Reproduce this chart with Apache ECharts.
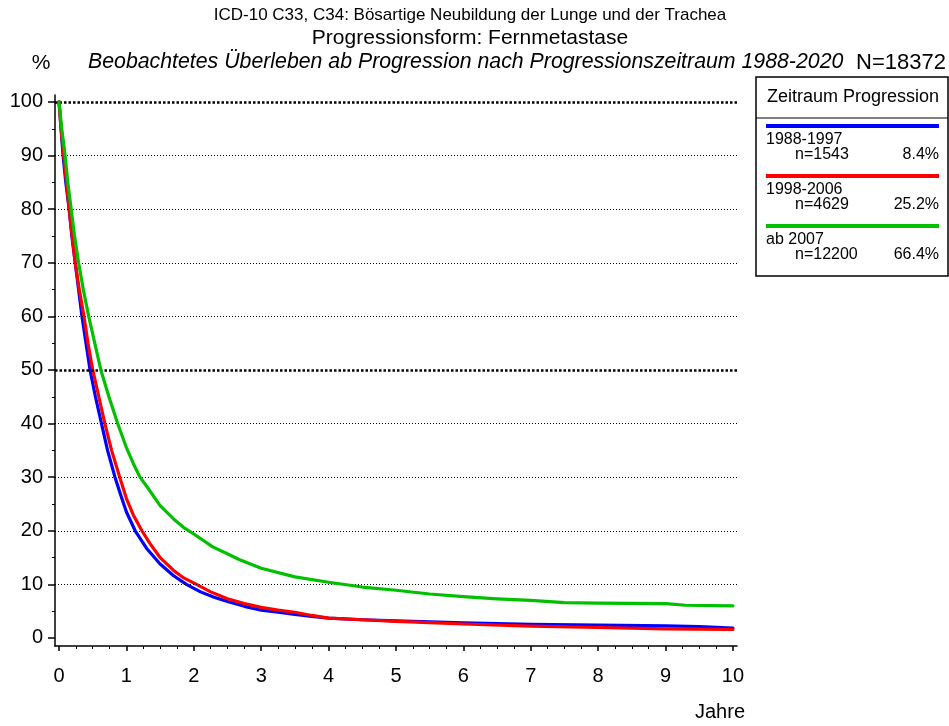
<!DOCTYPE html>
<html><head><meta charset="utf-8">
<script src="https://cdn.jsdelivr.net/npm/echarts@6/dist/echarts.min.js"></script>
<style>html,body{margin:0;padding:0;background:#fff}#c{width:949px;height:726px}</style>
</head><body><div id="c"></div>
<script>
const titleLines = ['ICD-10 C33, C34: Bösartige Neubildung der Lunge und der Trachea', 'Progressionsform: Fernmetastase', 'Beobachtetes Überleben ab Progression nach Progressionszeitraum 1988-2020'];
const totalN = 'N=18372';
const legendTitle = 'Zeitraum Progression';
const seriesNames = ['1988-1997', '1998-2006', 'ab 2007'];
const seriesCounts = ['n=1543', 'n=4629', 'n=12200'];
const seriesShares = ['8.4%', '25.2%', '66.4%'];
const seriesColors = ['#0000ff', '#ff0000', '#00c000'];

const blue = [[0,100],[0.03,95],[0.06,90],[0.1,85],[0.15,80],[0.19,75],[0.24,70],[0.29,65],[0.34,60],[0.4,55],[0.46,50],[0.54,45],[0.63,40],[0.72,35],[0.83,30],[0.92,26.5],[1,23.5],[1.13,20],[1.3,16.7],[1.5,13.8],[1.7,11.6],[1.89,10],[2.1,8.6],[2.3,7.6],[2.5,6.8],[2.75,5.9],[3,5.2],[3.25,4.8],[3.5,4.4],[3.75,4.0],[4,3.7],[4.5,3.4],[5,3.2],[5.5,3.0],[6,2.8],[7,2.55],[8,2.4],[9,2.25],[9.5,2.1],[10,1.85]];
const red = [[0,100],[0.03,95],[0.07,90],[0.11,85],[0.15,80],[0.195,75],[0.24,70],[0.3,65],[0.37,60],[0.43,55],[0.5,50],[0.59,45],[0.68,40],[0.78,35],[0.9,30],[1,26],[1.1,23],[1.23,20],[1.35,17.6],[1.5,15],[1.7,12.6],[1.85,11.2],[2.04,10],[2.25,8.6],[2.5,7.3],[2.75,6.4],[3,5.7],[3.25,5.2],[3.5,4.8],[3.75,4.2],[4,3.7],[4.5,3.4],[5,3.1],[5.5,2.85],[6,2.6],[7,2.2],[8,1.95],[9,1.7],[10,1.6]];
const green = [[0,100],[0.04,95],[0.09,90],[0.13,85],[0.18,80],[0.23,75],[0.29,70],[0.36,65],[0.44,60],[0.53,55],[0.62,50],[0.74,45],[0.87,40],[1,35.5],[1.1,32.6],[1.2,30],[1.3,28.3],[1.5,24.7],[1.7,22.2],[1.85,20.6],[2,19.4],[2.28,17.0],[2.48,15.8],[2.68,14.6],[3,13.0],[3.5,11.4],[4,10.4],[4.5,9.5],[5,8.9],[5.5,8.2],[6,7.7],[6.5,7.3],[7,7.0],[7.5,6.6],[8,6.5],[8.5,6.45],[9,6.4],[9.3,6.1],[10,6.0]];

const xTicks = [0,1,2,3,4,5,6,7,8,9,10];
const xMinorTicks = [0.25,0.5,0.75,1.25,1.5,1.75,2.25,2.5,2.75,3.25,3.5,3.75,4.25,4.5,4.75,5.25,5.5,5.75,6.25,6.5,6.75,7.25,7.5,7.75,8.25,8.5,8.75,9.25,9.5,9.75];
const yTicks = [0,10,20,30,40,50,60,70,80,90,100];
const yMinorTicks = [5,15,25,35,45,55,65,75,85,95];
const gridLines = [10,20,30,40,50,60,70,80,90,100];
const boldGridLines = [50,100];

const FONT = '"Liberation Sans", Arial, Helvetica, sans-serif';
const chart = echarts.init(document.getElementById('c'), null, {renderer: 'canvas'});

const X0 = -0.06, X1 = 10.06, Y0 = -1.5, Y1 = 101.3;
const dataSets = [blue, red, green];

const graphics = [
  {type:'text', x:470, y:15, style:{text:titleLines[0], font:'17px ' + FONT, fill:'#000', textAlign:'center', textVerticalAlign:'middle'}},
  {type:'text', x:470, y:38, style:{text:titleLines[1], font:'21px ' + FONT, fill:'#000', textAlign:'center', textVerticalAlign:'middle'}},
  {type:'text', x:88, y:62, style:{text:titleLines[2], font:'italic 21.3px ' + FONT, fill:'#000', textAlign:'left', textVerticalAlign:'middle'}},
  {type:'text', x:946, y:63, style:{text:totalN, font:'22px ' + FONT, fill:'#000', textAlign:'right', textVerticalAlign:'middle'}},
  {type:'text', x:41, y:63, style:{text:'%', font:'21px ' + FONT, fill:'#000', textAlign:'center', textVerticalAlign:'middle'}},
  {type:'text', x:745, y:712, style:{text:'Jahre', font:'20px ' + FONT, fill:'#000', textAlign:'right', textVerticalAlign:'middle'}},
  {type:'rect', shape:{x:756, y:77, width:192, height:199}, style:{fill:'#fff', stroke:'#000', lineWidth:1.5}},
  {type:'text', x:853, y:97, style:{text:legendTitle, font:'18px ' + FONT, fill:'#000', textAlign:'center', textVerticalAlign:'middle'}},
  {type:'line', shape:{x1:756, y1:118, x2:948, y2:118}, style:{stroke:'#000', lineWidth:1}}
];
seriesNames.forEach((n, i) => {
  const y = 126 + 50 * i;
  graphics.push({type:'line', shape:{x1:766, y1:y, x2:939, y2:y}, style:{stroke:seriesColors[i], lineWidth:4}});
  graphics.push({type:'text', x:766, y:y + 14, style:{text:n, font:'16px ' + FONT, fill:'#000', textAlign:'left', textVerticalAlign:'middle'}});
  graphics.push({type:'text', x:795, y:y + 29, style:{text:seriesCounts[i], font:'16px ' + FONT, fill:'#000', textAlign:'left', textVerticalAlign:'middle'}});
  graphics.push({type:'text', x:939, y:y + 29, style:{text:seriesShares[i], font:'16px ' + FONT, fill:'#000', textAlign:'right', textVerticalAlign:'middle'}});
});

const markData = gridLines.map(v => ({
  yAxis: v,
  lineStyle: boldGridLines.includes(v)
    ? {color:'#000', width:2.5, type:[2.5,2]}
    : {color:'#000', width:1, type:[1,2]}
}));

const series = dataSets.map((d, i) => ({
  name: seriesNames[i], type:'line', data:d, xAxisIndex:0, yAxisIndex:0,
  showSymbol:false, symbol:'none', animation:false, z: 3 + i,
  smooth:false,
  lineStyle:{color:seriesColors[i], width:3.2, join:'round', cap:'round'}
}));
series.unshift({
  type:'line', data:[], xAxisIndex:0, yAxisIndex:0, silent:true, z:1,
  markLine:{silent:true, symbol:'none', label:{show:false}, animation:false, data:markData}
});

chart.setOption({
  animation:false,
  backgroundColor:'#fff',
  grid:{left:55, right:212, top:95, bottom:80, containLabel:false},
  xAxis:[
    {type:'value', min:X0, max:X1, position:'bottom',
     axisLine:{show:true, onZero:false, lineStyle:{color:'#000', width:1.5}},
     axisTick:{show:true, customValues:xTicks, length:5, lineStyle:{color:'#000', width:1.5}},
     axisLabel:{show:true, customValues:xTicks, margin:20, color:'#000', fontSize:20, fontFamily:FONT},
     splitLine:{show:false}},
    {type:'value', min:X0, max:X1, position:'bottom', gridIndex:0,
     axisLine:{show:false, onZero:false},
     axisTick:{show:true, customValues:xMinorTicks, length:3, lineStyle:{color:'#000', width:1}},
     axisLabel:{show:false}, splitLine:{show:false}}
  ],
  yAxis:[
    {type:'value', min:Y0, max:Y1, position:'left',
     axisLine:{show:true, onZero:false, lineStyle:{color:'#000', width:1.5}},
     axisTick:{show:true, customValues:yTicks, length:7, lineStyle:{color:'#000', width:1.5}},
     axisLabel:{show:true, customValues:yTicks, margin:12, color:'#000', fontSize:20, fontFamily:FONT},
     splitLine:{show:false}},
    {type:'value', min:Y0, max:Y1, position:'left', gridIndex:0,
     axisLine:{show:false, onZero:false},
     axisTick:{show:true, customValues:yMinorTicks, length:3, lineStyle:{color:'#000', width:1}},
     axisLabel:{show:false}, splitLine:{show:false}}
  ],
  series: series,
  graphic: graphics
});
</script></body></html>
